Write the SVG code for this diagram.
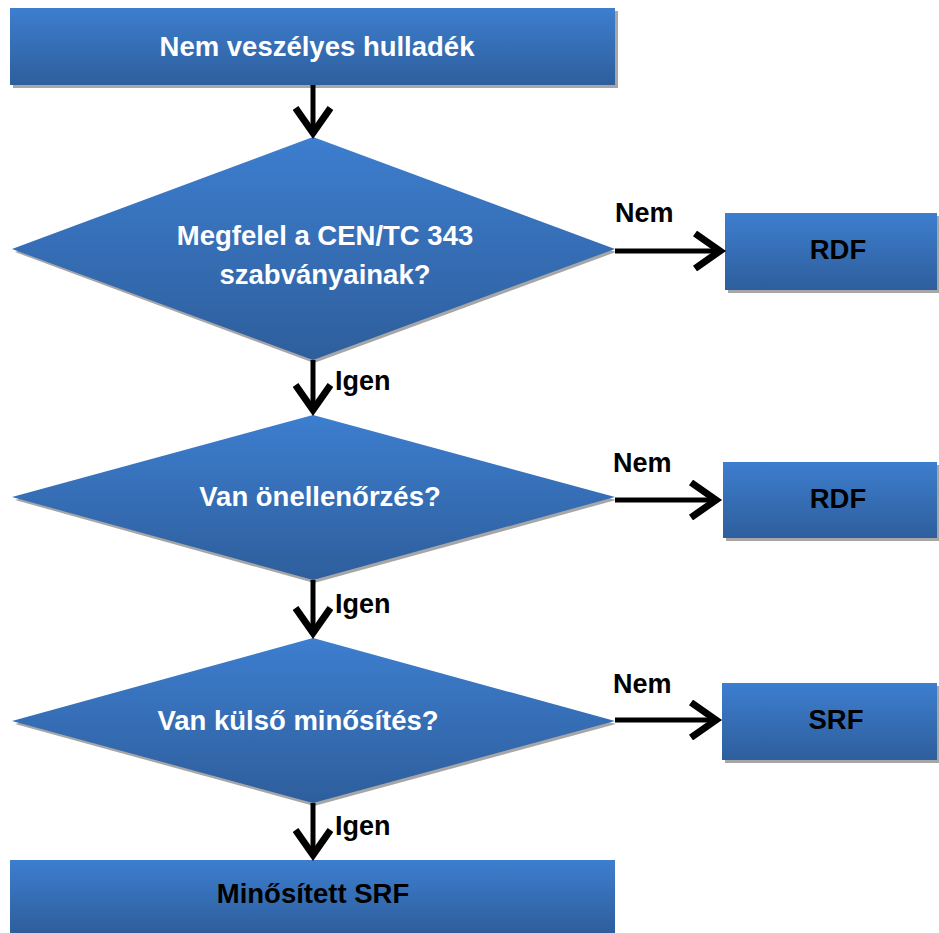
<svg xmlns="http://www.w3.org/2000/svg" width="939" height="933" viewBox="0 0 939 933">
<style>
.t{font-family:"Liberation Sans",Arial,sans-serif;font-weight:bold;font-size:27.5px;text-anchor:middle;dominant-baseline:central}
.w{fill:#ffffff}
.k{fill:#000000}
.lbl{font-family:"Liberation Sans",Arial,sans-serif;font-weight:bold;font-size:27px;fill:#000}
.sh{fill:#a6a6a6}
.n{fill:url(#g);}
.c{stroke:#000;stroke-width:5;fill:none}
</style>
<defs>
<linearGradient id="g" x1="0" y1="0" x2="0" y2="1">
<stop offset="0" stop-color="#3d7ecf"/>
<stop offset="1" stop-color="#2e5e9c"/>
</linearGradient>
<marker id="ah" markerWidth="8" markerHeight="8" refX="6" refY="4" orient="auto" markerUnits="strokeWidth" viewBox="0 0 8 8">
<polyline points="1,0.5 6,4 1,7.5" fill="none" stroke="#000" stroke-width="1.4"/>
</marker>
</defs>
<g id="n1">
<rect class="sh" x="13" y="11" width="605" height="77"/>
<rect class="n" x="10" y="8" width="605" height="77"/>
<text class="t w" x="317" y="46">Nem veszélyes hulladék</text>
</g>
<g id="d1">
<polygon class="sh" points="314,140 616,252 314,363 15,252"/>
<polygon class="n" points="313,137 615,249 313,360 12,249"/>
<text class="t w" x="325" y="235">Megfelel a CEN/TC 343</text>
<text class="t w" x="325" y="274">szabványainak?</text>
</g>
<g id="r1">
<rect class="sh" x="728" y="216" width="211" height="77"/>
<rect class="n" x="725" y="213" width="212" height="77"/>
<text class="t k" x="838" y="249">RDF</text>
</g>
<g id="d2">
<polygon class="sh" points="314,418 616,500 314,583 15,500"/>
<polygon class="n" points="313,415 615,497 313,580 12,497"/>
<text class="t w" x="320" y="496">Van önellenőrzés?</text>
</g>
<g id="r2">
<rect class="sh" x="726" y="465" width="213" height="76"/>
<rect class="n" x="723" y="462" width="214" height="76"/>
<text class="t k" x="838" y="498">RDF</text>
</g>
<g id="d3">
<polygon class="sh" points="314,641 616,724 314,806 15,724"/>
<polygon class="n" points="313,638 615,721 313,803 12,721"/>
<text class="t w" x="298" y="720">Van külső minősítés?</text>
</g>
<g id="s1">
<rect class="sh" x="725" y="686" width="214" height="77"/>
<rect class="n" x="722" y="683" width="215" height="77"/>
<text class="t k" x="836" y="719">SRF</text>
</g>
<g id="n2">
<rect class="n" x="10" y="860" width="605" height="73"/>
<text class="t k" x="313" y="893">Minősített SRF</text>
</g>
<g id="connectors">
<line class="c" x1="313" y1="85" x2="313" y2="133" marker-end="url(#ah)"/>
<line class="c" x1="313" y1="360" x2="313" y2="410" marker-end="url(#ah)"/>
<line class="c" x1="313" y1="580" x2="313" y2="633" marker-end="url(#ah)"/>
<line class="c" x1="313" y1="803" x2="313" y2="855" marker-end="url(#ah)"/>
<line class="c" x1="615" y1="251" x2="720" y2="251" marker-end="url(#ah)"/>
<line class="c" x1="615" y1="500" x2="716" y2="500" marker-end="url(#ah)"/>
<line class="c" x1="615" y1="720" x2="716" y2="720" marker-end="url(#ah)"/>
<text class="lbl" x="615" y="222">Nem</text>
<text class="lbl" x="613" y="472">Nem</text>
<text class="lbl" x="613" y="693">Nem</text>
<text class="lbl" x="335" y="390">Igen</text>
<text class="lbl" x="335" y="613">Igen</text>
<text class="lbl" x="335" y="835">Igen</text>
</g>
</svg>
